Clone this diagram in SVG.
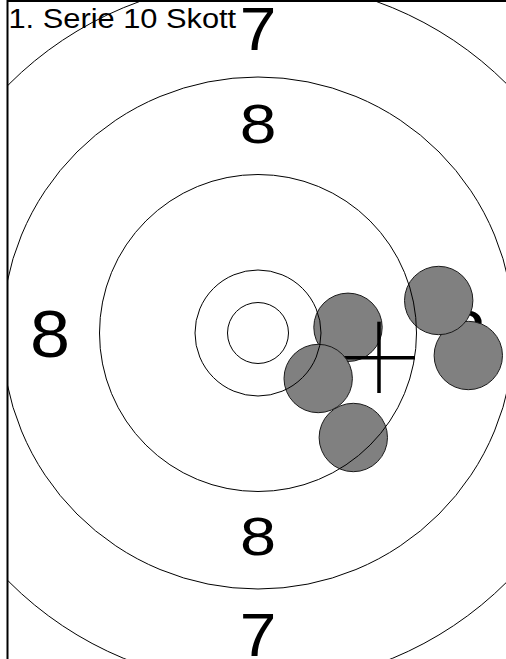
<svg xmlns="http://www.w3.org/2000/svg" width="506" height="659" viewBox="0 0 506 659">
<style>
.lbl{font-family:"Liberation Sans",Arial,sans-serif;fill:#000;text-anchor:middle}
.ring{fill:none;stroke:#000;stroke-width:1}
.shot{fill:#808080;stroke:#1a1a1a;stroke-width:1}
.cross{stroke:#000;stroke-width:3.5;fill:none}
</style>
<defs>
<clipPath id="clip"><rect x="8" y="2" width="498" height="657"/></clipPath>
</defs>
<rect x="0" y="0" width="506" height="659" fill="#fff"/>
<g id="labels">
<text class="lbl" font-size="55" transform="translate(258,143) scale(1.2,1)">8</text>
<text class="lbl" font-size="54" transform="translate(258,554.5) scale(1.2,1)">8</text>
<text class="lbl" font-size="66" transform="translate(50,356.7) scale(1.09,1)">8</text>
<text class="lbl" font-size="66" transform="translate(466,356.7) scale(1.09,1)">8</text>
<text class="lbl" font-size="61.5" transform="translate(258,50) scale(1.07,1)">7</text>
<text class="lbl" font-size="61.5" transform="translate(258,656.3) scale(1.07,1)">7</text>
</g>
<g id="shots">
<circle id="shot1" class="shot" cx="348" cy="327.3" r="34.2"/>
<g id="cross">
<line class="cross" x1="343" y1="357.7" x2="415" y2="357.7"/>
<line class="cross" x1="379" y1="321.7" x2="379" y2="393"/>
</g>
<circle id="shot2" class="shot" cx="318.2" cy="378.5" r="34.2"/>
<circle id="shot3" class="shot" cx="353.3" cy="437.5" r="34.2"/>
<circle id="shot5" class="shot" cx="468.3" cy="355.5" r="34.2"/>
<circle id="shot4" class="shot" cx="438.7" cy="300.5" r="34.2"/>
</g>
<g id="rings" clip-path="url(#clip)">
<circle class="ring" cx="258" cy="333" r="30.5"/>
<circle class="ring" cx="258" cy="333" r="63"/>
<circle class="ring" cx="258" cy="333" r="158.5"/>
<circle class="ring" cx="258" cy="333" r="256"/>
<circle class="ring" cx="258" cy="333" r="352"/>
</g>
<g id="frame">
<line x1="7.5" y1="0" x2="7.5" y2="659" stroke="#000" stroke-width="2"/>
<line x1="7" y1="1" x2="506" y2="1" stroke="#000" stroke-width="2"/>
</g>
<text id="title" font-family="Liberation Sans, Arial, sans-serif" font-size="28" fill="#000" transform="translate(8.5,28) scale(1.1,1)">1. Serie 10 Skott</text>
</svg>
